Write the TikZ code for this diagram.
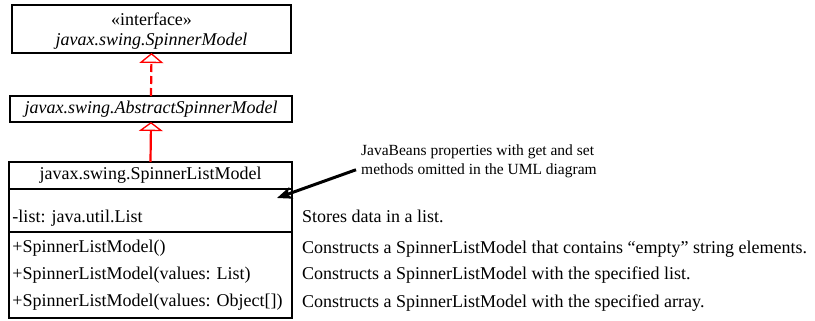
\documentclass[tikz,border=0pt]{standalone}
\usepackage{fontspec}
\setmainfont{Liberation Serif}
\usepackage{tikz}
\usetikzlibrary{positioning,arrows.meta}
\frenchspacing

\begin{document}
\begin{tikzpicture}[x=1pt, y=1pt, every node/.style={font=\fontsize{18}{20}\selectfont},
  uml/.style={draw, line width=1.2pt, outer sep=0pt, inner sep=3.5pt, align=center},
  member/.style={uml, align=left, text width=276pt},
  note/.style={inner sep=0pt, align=left},
  implements/.style={red, line width=2.2pt, dash pattern=on 8pt off 4pt,
    -{Triangle[open, length=10pt, width=24pt, line width=1.3pt]}},
  extends/.style={red, line width=2.2pt, -{Triangle[open, length=9pt, width=24pt, line width=1.3pt]}},
  pointer/.style={line width=3pt, -{Stealth[length=15pt, width=12pt, inset=4pt]}}]
  \useasboundingbox (0,0) rectangle (815,-321);
  \node[uml, minimum width=279pt, minimum height=48pt, text depth=0pt] (spinnerModel) at (151.5,-29)
    {«interface»\\\textit{javax.swing.SpinnerModel}};
  \node[uml, minimum width=282pt, minimum height=26pt] (abstractModel) at (151,-109)
    {\textit{javax.swing.AbstractSpinnerModel}};
  \node[uml, minimum width=283pt, minimum height=27pt] (listTitle) at (150.5,-175.5)
    {javax.swing.SpinnerListModel};
  \node[member, below=0pt of listTitle, minimum height=43pt, text height=28pt, text depth=5pt] (listAttr)
    {-list: java.util.List};
  \node[member, below=0pt of listAttr, minimum height=86pt, font=\fontsize{18}{27}\selectfont] (listCtors)
    {+SpinnerListModel()\\+SpinnerListModel(values: List)\\+SpinnerListModel(values: Object[])};
  \draw[implements] (abstractModel.north) -- (spinnerModel.south);
  \draw[extends] (listTitle.north) -- (abstractModel.south);
  \node[note, anchor=base west] (storeNote) at (302,-222.5) {Stores data in a list.};
  \node[note, anchor=base west] (emptyNote) at (302,-253) {Constructs a SpinnerListModel that contains “empty” string elements.};
  \node[note, anchor=base west] (listNote) at (302,-279) {Constructs a SpinnerListModel with the specified list.};
  \node[note, anchor=base west] (arrayNote) at (302,-307) {Constructs a SpinnerListModel with the specified array.};
  \node[note, anchor=north west, font=\fontsize{15.5}{19}\selectfont] (beanNote) at (361,-145)
    {JavaBeans properties with get and set\\methods omitted in the UML diagram};
  \coordinate (omitTip) at (277,-198);
  \draw[pointer] ([xshift=-5pt, yshift=-8pt]beanNote.west) -- (omitTip);
\end{tikzpicture}
\end{document}
